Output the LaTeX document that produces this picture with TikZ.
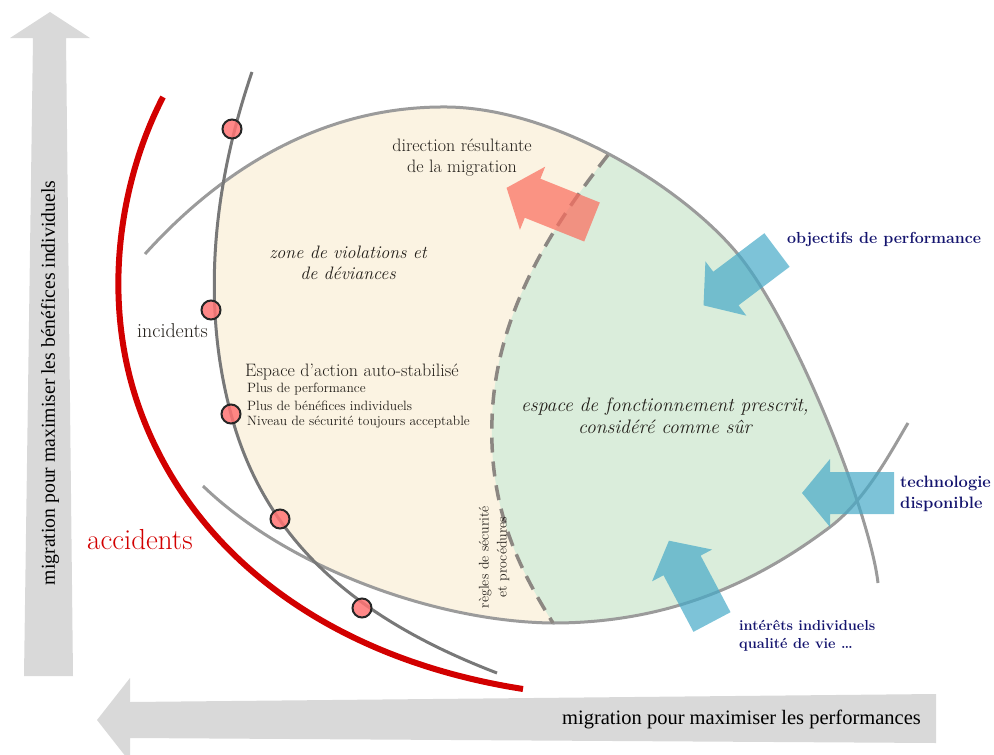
\documentclass[tikz,border=0pt]{standalone}
\usepackage{fontspec}
\newfontfamily\condfont{Liberation Serif}
\definecolor{beigefill}{RGB}{251,243,226}
\definecolor{greenfill}{RGB}{218,237,219}
\definecolor{arrowgray}{RGB}{217,217,217}
\definecolor{linegray}{RGB}{155,155,155}
\definecolor{incgray}{RGB}{120,120,120}
\definecolor{dashgray}{RGB}{140,135,130}
\definecolor{accred}{RGB}{210,0,0}
\definecolor{navytext}{RGB}{20,20,110}
\definecolor{bluearr}{RGB}{70,170,200}
\definecolor{redarr}{RGB}{250,110,95}
\definecolor{darktext}{RGB}{34,30,25}
\newcommand{\fatarr}[3]{%
  \fill[#3, shift={(#1)}, rotate=#2] (0,-21) -- (64,-21) -- (64,-34) -- (92,0) -- (64,34) -- (64,21) -- (0,21) -- cycle;}
\def\Apath{(145,254) .. controls (230,160) and (330,108) .. (440,107) .. controls (550,105) and (680,185) .. (737,253) .. controls (794,321) and (870,513) .. (878,583)}
\def\Bpath{(203,486) .. controls (290,570) and (440,622) .. (553,623) .. controls (650,623) and (740,595) .. (830,527) .. controls (866,500) and (893,448) .. (908,423)}
\def\Cpath{(252,72) .. controls (215,180) and (200,300) .. (231,414) .. controls (267,549) and (367,623) .. (497,673)}
\def\Rpath{(163,97) .. controls (120,180) and (100,300) .. (140,410) .. controls (191,551) and (325,658) .. (523,689)}
\def\Dpath{(608,155) .. controls (545,235) and (495,320) .. (492,420) .. controls (489,510) and (520,570) .. (553,623)}
\tikzset{
  bigarrow/.style={fill=arrowgray},
  graycurve/.style={draw=linegray, line width=3pt},
  inccurve/.style={draw=incgray, line width=3pt},
  dashcurve/.style={draw=dashgray, line width=3.5pt, dash pattern=on 15pt off 9pt},
  redcurve/.style={draw=accred, line width=6pt},
  incident/.style={circle, draw=black!85, line width=2pt, fill=red!55!white, fill opacity=0.85, minimum size=19pt, inner sep=0pt},
  bluearrow/.style={fill=bluearr, fill opacity=0.7},
  redarrow/.style={fill=redarr, fill opacity=0.72},
  navylabel/.style={text=navytext, align=left, inner sep=0pt},
  darklabel/.style={text=darktext, inner sep=0pt},
}
\newcommand{\fs}[2]{\fontsize{#1}{#2}\selectfont}
\begin{document}
\begin{tikzpicture}[x=1pt,y=-1pt]
\useasboundingbox (0,0) rectangle (994,755);
\clip (0,0) rectangle (994,755);
% big gray arrows
\fill[bigarrow] (50,12) -- (90,38) -- (66,38) -- (73,676) -- (24,676) -- (33,38) -- (10,38) -- cycle;
\fill[bigarrow] (97,720) -- (130,678) -- (130,702) -- (936,694) -- (936,743) -- (130,738) -- (130,762) -- cycle;
\node[darklabel, rotate=90, text=black, font=\condfont\fs{19.7}{22}] (vlab) at (50,383) {migration pour maximiser les bénéfices individuels};
\node[darklabel, anchor=east, text=black, font=\condfont\fs{20.5}{23}] (hlab) at (921,719) {migration pour maximiser les performances};
% fills
\begin{scope}
  \clip \Apath -- (878,800) -- (100,800) -- (100,254) -- cycle;
  \clip \Bpath -- (1000,423) -- (1000,0) -- (0,0) -- (0,486) -- cycle;
  \clip \Cpath -- (497,760) -- (1000,760) -- (1000,0) -- (252,0) -- cycle;
  \fill[beigefill] (0,0) rectangle (994,755);
  \fill[greenfill] \Dpath -- (553,760) -- (1000,760) -- (1000,0) -- (608,0) -- cycle;
\end{scope}
% curves
\draw[graycurve] \Apath;
\draw[graycurve] \Bpath;
\draw[dashcurve] \Dpath;
\draw[inccurve] \Cpath;
\draw[redcurve] \Rpath;
% incident circles
\node[incident] (i1) at (232,129) {};
\node[incident] (i2) at (211,310) {};
\node[incident] (i3) at (231,414) {};
\node[incident] (i4) at (280,519) {};
\node[incident] (i5) at (362,608) {};
% fat arrows
\fatarr{592,222}{158.2}{redarrow}
\fatarr{777,250}{217}{bluearrow}
\fatarr{894,493}{180}{bluearrow}
\fatarr{712,622}{117.9}{bluearrow}
% texts
\node[darklabel, align=center, font=\fs{18}{21}] (dir) at (462,158) {direction résultante\\de la migration};
\node[darklabel, align=center, font=\fs{18}{21}\itshape] (zone) at (348,263) {zone de violations et\\de déviances};
\node[darklabel, anchor=east, font=\fs{20}{22}] (inc) at (208,331) {incidents};
\node[darklabel, anchor=west, font=\fs{18}{20}] (esp) at (245,372) {Espace d’action auto-stabilisé};
\node[darklabel, anchor=west, font=\fs{13.5}{16}] (esp1) at (247,389) {Plus de performance};
\node[darklabel, anchor=west, font=\fs{13.5}{16}] (esp2) at (247,406) {Plus de bénéfices individuels};
\node[darklabel, anchor=west, font=\fs{13.5}{16}] (esp3) at (247,422) {Niveau de sécurité toujours acceptable};
\node[darklabel, align=center, font=\fs{19.5}{22}\itshape] (presc) at (665,416) {espace de fonctionnement prescrit,\\considéré comme sûr};
\node[darklabel, rotate=90, align=center, font=\fs{14}{18}] (regles) at (494,557) {règles de sécurité\\et procédures};
\node[darklabel, text=accred, anchor=west, font=\fs{29}{32}] (acc) at (87,540) {accidents};
\node[navylabel, anchor=west, font=\fs{16}{19}\bfseries] (obj) at (787,239) {objectifs de performance};
\node[navylabel, anchor=west, font=\fs{16.5}{21}\bfseries] (tech) at (900,494) {technologie\\disponible};
\node[navylabel, anchor=west, font=\fs{14.5}{18}\bfseries] (inter) at (739,636) {intérêts individuels\\qualité de vie \ldots};
\end{tikzpicture}
\end{document}
